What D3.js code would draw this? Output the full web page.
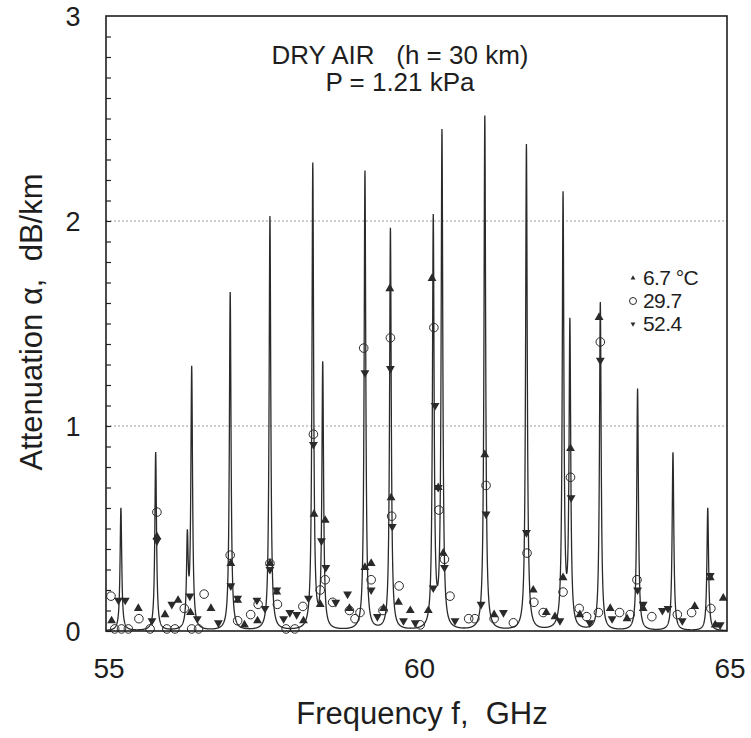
<!DOCTYPE html>
<html>
<head>
<meta charset="utf-8">
<script src="https://cdn.jsdelivr.net/npm/d3@7"></script>
<style>
  body { margin: 0; background: #fff; }
  text { font-family: "Liberation Sans", Arial, Helvetica, sans-serif; fill: #1e1e1e; white-space: pre; }
</style>
</head>
<body>
<div id="chart"></div>
<script>
/**
 * Values (dry air, h = 30 km, P = 1.21 kPa)
 */
// O2 line centres (GHz) and peak attenuation of the model curve (dB/km)
var lineFreq = [55.24, 55.80, 56.31, 56.38, 57.00, 57.64, 58.33, 58.49, 59.17, 59.58,
                60.27, 60.41, 61.10, 61.77, 62.36, 62.47, 62.96, 63.56, 64.13, 64.69];
var linePeak = [0.60, 0.87, 0.43, 1.27, 1.65, 2.02, 2.27, 1.29, 2.24, 1.96,
                2.00, 2.42, 2.51, 2.37, 2.11, 1.48, 1.60, 1.18, 0.87, 0.60];
var lineHalfWidth = 0.016;   // GHz, read from the spike flanks

// measured points, 6.7 degC
var t067Freq = [55.09, 55.52, 55.82, 55.95, 56.16, 56.36, 56.69, 57.01, 57.12, 57.23,
                57.44, 57.64, 57.75, 58.18, 58.35, 58.45, 58.53, 58.92, 59.17, 59.27,
                59.47, 59.57, 59.59, 59.71, 59.90, 60.19, 60.25, 60.35, 60.43, 61.10,
                61.25, 61.88, 62.09, 62.23, 62.36, 62.48, 62.63, 62.94, 63.12, 63.39,
                63.65, 64.48, 64.73, 64.81, 64.94];
var t067Alpha = [0.05, 0.11, 0.46, 0.08, 0.15, 0.09, 0.11, 0.33, 0.15, 0.03,
                 0.05, 0.33, 0.19, 0.05, 0.57, 0.13, 0.54, 0.11, 0.31, 0.33,
                 0.11, 1.67, 0.65, 0.14, 0.10, 0.10, 1.72, 0.70, 0.38, 0.86,
                 0.08, 0.20, 0.09, 0.07, 0.26, 0.89, 0.08, 1.53, 0.11, 0.06,
                 0.11, 0.12, 0.26, 0.03, 0.16];

// measured points, 29.7 degC
var t297Freq = [55.08, 55.14, 55.25, 55.36, 55.53, 55.71, 55.82, 55.98, 56.11, 56.26,
                56.38, 56.49, 56.58, 57.00, 57.12, 57.33, 57.45, 57.64, 57.76, 57.90,
                58.04, 58.17, 58.34, 58.45, 58.53, 58.65, 58.92, 59.01, 59.09, 59.15,
                59.27, 59.46, 59.58, 59.60, 59.72, 60.06, 60.28, 60.36, 60.45, 60.54,
                60.84, 60.94, 61.12, 61.25, 61.56, 61.78, 61.89, 62.04, 62.36, 62.48,
                62.62, 62.74, 62.93, 62.96, 63.27, 63.44, 63.55, 63.79, 64.20, 64.43,
                64.74];
var t297Alpha = [0.17, 0.01, 0.01, 0.01, 0.06, 0.01, 0.58, 0.01, 0.01, 0.11,
                 0.01, 0.01, 0.18, 0.37, 0.05, 0.08, 0.13, 0.33, 0.13, 0.01,
                 0.01, 0.12, 0.96, 0.20, 0.25, 0.14, 0.10, 0.06, 0.09, 1.38,
                 0.25, 0.10, 1.43, 0.56, 0.22, 0.03, 1.48, 0.59, 0.35, 0.17,
                 0.06, 0.06, 0.71, 0.06, 0.04, 0.38, 0.14, 0.09, 0.19, 0.75,
                 0.11, 0.07, 0.09, 1.41, 0.09, 0.08, 0.25, 0.07, 0.08, 0.09,
                 0.11];

// measured points, 52.4 degC
var t524Freq = [55.20, 55.31, 55.74, 55.82, 56.06, 56.35, 56.47, 56.81, 57.01, 57.12,
                57.43, 57.56, 57.64, 57.75, 57.86, 57.96, 58.07, 58.26, 58.34, 58.47,
                58.54, 58.70, 58.89, 59.17, 59.27, 59.37, 59.58, 59.61, 59.79, 59.98,
                60.27, 60.30, 60.35, 60.45, 60.62, 61.04, 61.12, 61.40, 61.77, 62.31,
                62.49, 62.79, 62.96, 63.15, 63.56, 63.65, 63.96, 64.05, 64.28, 64.73,
                64.89];
var t524Alpha = [0.15, 0.15, 0.05, 0.44, 0.13, 0.17, 0.06, 0.04, 0.22, 0.16,
                 0.15, 0.11, 0.30, 0.20, 0.06, 0.09, 0.08, 0.16, 0.91, 0.44,
                 0.31, 0.14, 0.18, 1.26, 0.20, 0.07, 1.28, 0.51, 0.05, 0.04,
                 0.21, 1.10, 0.70, 0.31, 0.05, 0.13, 0.57, 0.09, 0.48, 0.05,
                 0.65, 0.04, 1.32, 0.06, 0.20, 0.13, 0.10, 0.11, 0.05, 0.27,
                 0.03];

var xTicks = [55, 60, 65];
var yTicks = [0, 1, 2, 3];
var legendLabels = ["6.7 \u00B0C", "29.7", "52.4"];

/**
 * Chart geometry
 */
var W = 751, H = 738;
var margin = {top: 16, right: 24, bottom: 107, left: 106};
var _width = W - margin.left - margin.right;
var _height = H - margin.top - margin.bottom;

var svg = d3.select("#chart").append("svg")
  .attr("width", W).attr("height", H);
var g = svg.append("g")
  .attr("transform", "translate(" + margin.left + "," + margin.top + ")");

var x = d3.scaleLinear().domain([55, 65]).range([0, _width]);
var y = d3.scaleLinear().domain([0, 3]).range([_height, 0]);

// dotted gridlines at 1 and 2
g.selectAll(".grid").data([1, 2]).enter().append("line")
  .attr("x1", 0).attr("x2", _width)
  .attr("y1", function(d) { return y(d); }).attr("y2", function(d) { return y(d); })
  .attr("stroke", "#9a9a9a").attr("stroke-width", 1).attr("stroke-dasharray", "2,2");

// small inward ticks every 0.1 on the left axis
var yAxis = d3.axisLeft(y).tickValues(d3.range(0, 30).map(function(i) { return i / 10; }))
  .tickSize(-5).tickFormat("");
var ya = g.append("g").call(yAxis);
ya.select(".domain").remove();
ya.selectAll("line").attr("stroke", "#222").attr("stroke-width", 1.2);

// model curve: sum of line shapes built from the read centres/peaks
function alphaAt(f) {
  var s = 0;
  for (var i = 0; i < lineFreq.length; i++) {
    var d = f - lineFreq[i];
    s += linePeak[i] * lineHalfWidth * lineHalfWidth / (lineHalfWidth * lineHalfWidth + d * d);
  }
  return s;
}
var fs = d3.range(55, 65.0001, 0.002).concat(lineFreq).sort(d3.ascending);
var curve = d3.line()
  .x(function(f) { return x(f); })
  .y(function(f) { return y(Math.min(alphaAt(f), 3)); });
g.append("path").datum(fs)
  .attr("d", curve)
  .attr("fill", "none").attr("stroke", "#2a2a2a").attr("stroke-width", 1.3);

// markers
var sym = {
  up: d3.symbol().type(d3.symbolTriangle).size(34),
  down: d3.symbol().type(d3.symbolTriangle).size(34)
};
function drawPoints(fr, al, kind) {
  var pts = fr.map(function(f, i) { return [f, al[i]]; });
  if (kind === "circle") {
    g.append("g").selectAll("circle").data(pts).enter().append("circle")
      .attr("cx", function(d) { return x(d[0]); })
      .attr("cy", function(d) { return y(d[1]); })
      .attr("r", 4.3)
      .attr("fill", "none").attr("stroke", "#2a2a2a").attr("stroke-width", 1);
  } else {
    g.append("g").selectAll("path").data(pts).enter().append("path")
      .attr("d", sym[kind])
      .attr("transform", function(d) {
        return "translate(" + x(d[0]) + "," + y(d[1]) + ")" + (kind === "down" ? " rotate(180)" : "");
      })
      .attr("fill", "#2a2a2a");
  }
}
drawPoints(t067Freq, t067Alpha, "up");
drawPoints(t297Freq, t297Alpha, "circle");
drawPoints(t524Freq, t524Alpha, "down");

// frame
g.append("rect").attr("x", 0).attr("y", 0).attr("width", _width).attr("height", _height)
  .attr("fill", "none").attr("stroke", "#1e1e1e").attr("stroke-width", 1.6);

// tick labels
g.selectAll(".xl").data(xTicks).enter().append("text")
  .attr("x", function(d) { return x(d) + 3; }).attr("y", _height + 47)
  .attr("text-anchor", "middle").style("font-size", "28px")
  .text(function(d) { return d; });
g.selectAll(".yl").data(yTicks).enter().append("text")
  .attr("x", -33).attr("y", function(d) { return y(d) + 10; })
  .attr("text-anchor", "middle").style("font-size", "27px")
  .text(function(d) { return d; });

// axis titles
svg.append("text")
  .attr("x", 422).attr("y", 724)
  .attr("text-anchor", "middle").style("font-size", "31px")
  .text("Frequency f,  GHz");
svg.append("text")
  .attr("transform", "translate(42,322) rotate(-90)")
  .attr("text-anchor", "middle").style("font-size", "31px")
  .text("Attenuation \u03B1,  dB/km");

// title block
svg.append("text").attr("x", 400).attr("y", 64)
  .attr("text-anchor", "middle").style("font-size", "26px")
  .text("DRY AIR   (h = 30 km)");
svg.append("text").attr("x", 400).attr("y", 91)
  .attr("text-anchor", "middle").style("font-size", "26px")
  .text("P = 1.21 kPa");

// legend
var leg = svg.append("g").attr("transform", "translate(633,0)");
var legY = [285, 308, 331];
var legKinds = ["up", "circle", "down"];
legKinds.forEach(function(k, i) {
  if (k === "circle") {
    leg.append("circle").attr("cx", 0).attr("cy", legY[i] - 7).attr("r", 3.5)
      .attr("fill", "none").attr("stroke", "#2a2a2a").attr("stroke-width", 1);
  } else {
    leg.append("path")
      .attr("d", d3.symbol().type(d3.symbolTriangle).size(10))
      .attr("transform", "translate(0," + (legY[i] - 7) + ")" + (k === "down" ? " rotate(180)" : ""))
      .attr("fill", "#2a2a2a");
  }
  leg.append("text").attr("x", 10).attr("y", legY[i])
    .style("font-size", "21px").style("letter-spacing", "-0.6px")
    .text(legendLabels[i]);
});
</script>
</body>
</html>
